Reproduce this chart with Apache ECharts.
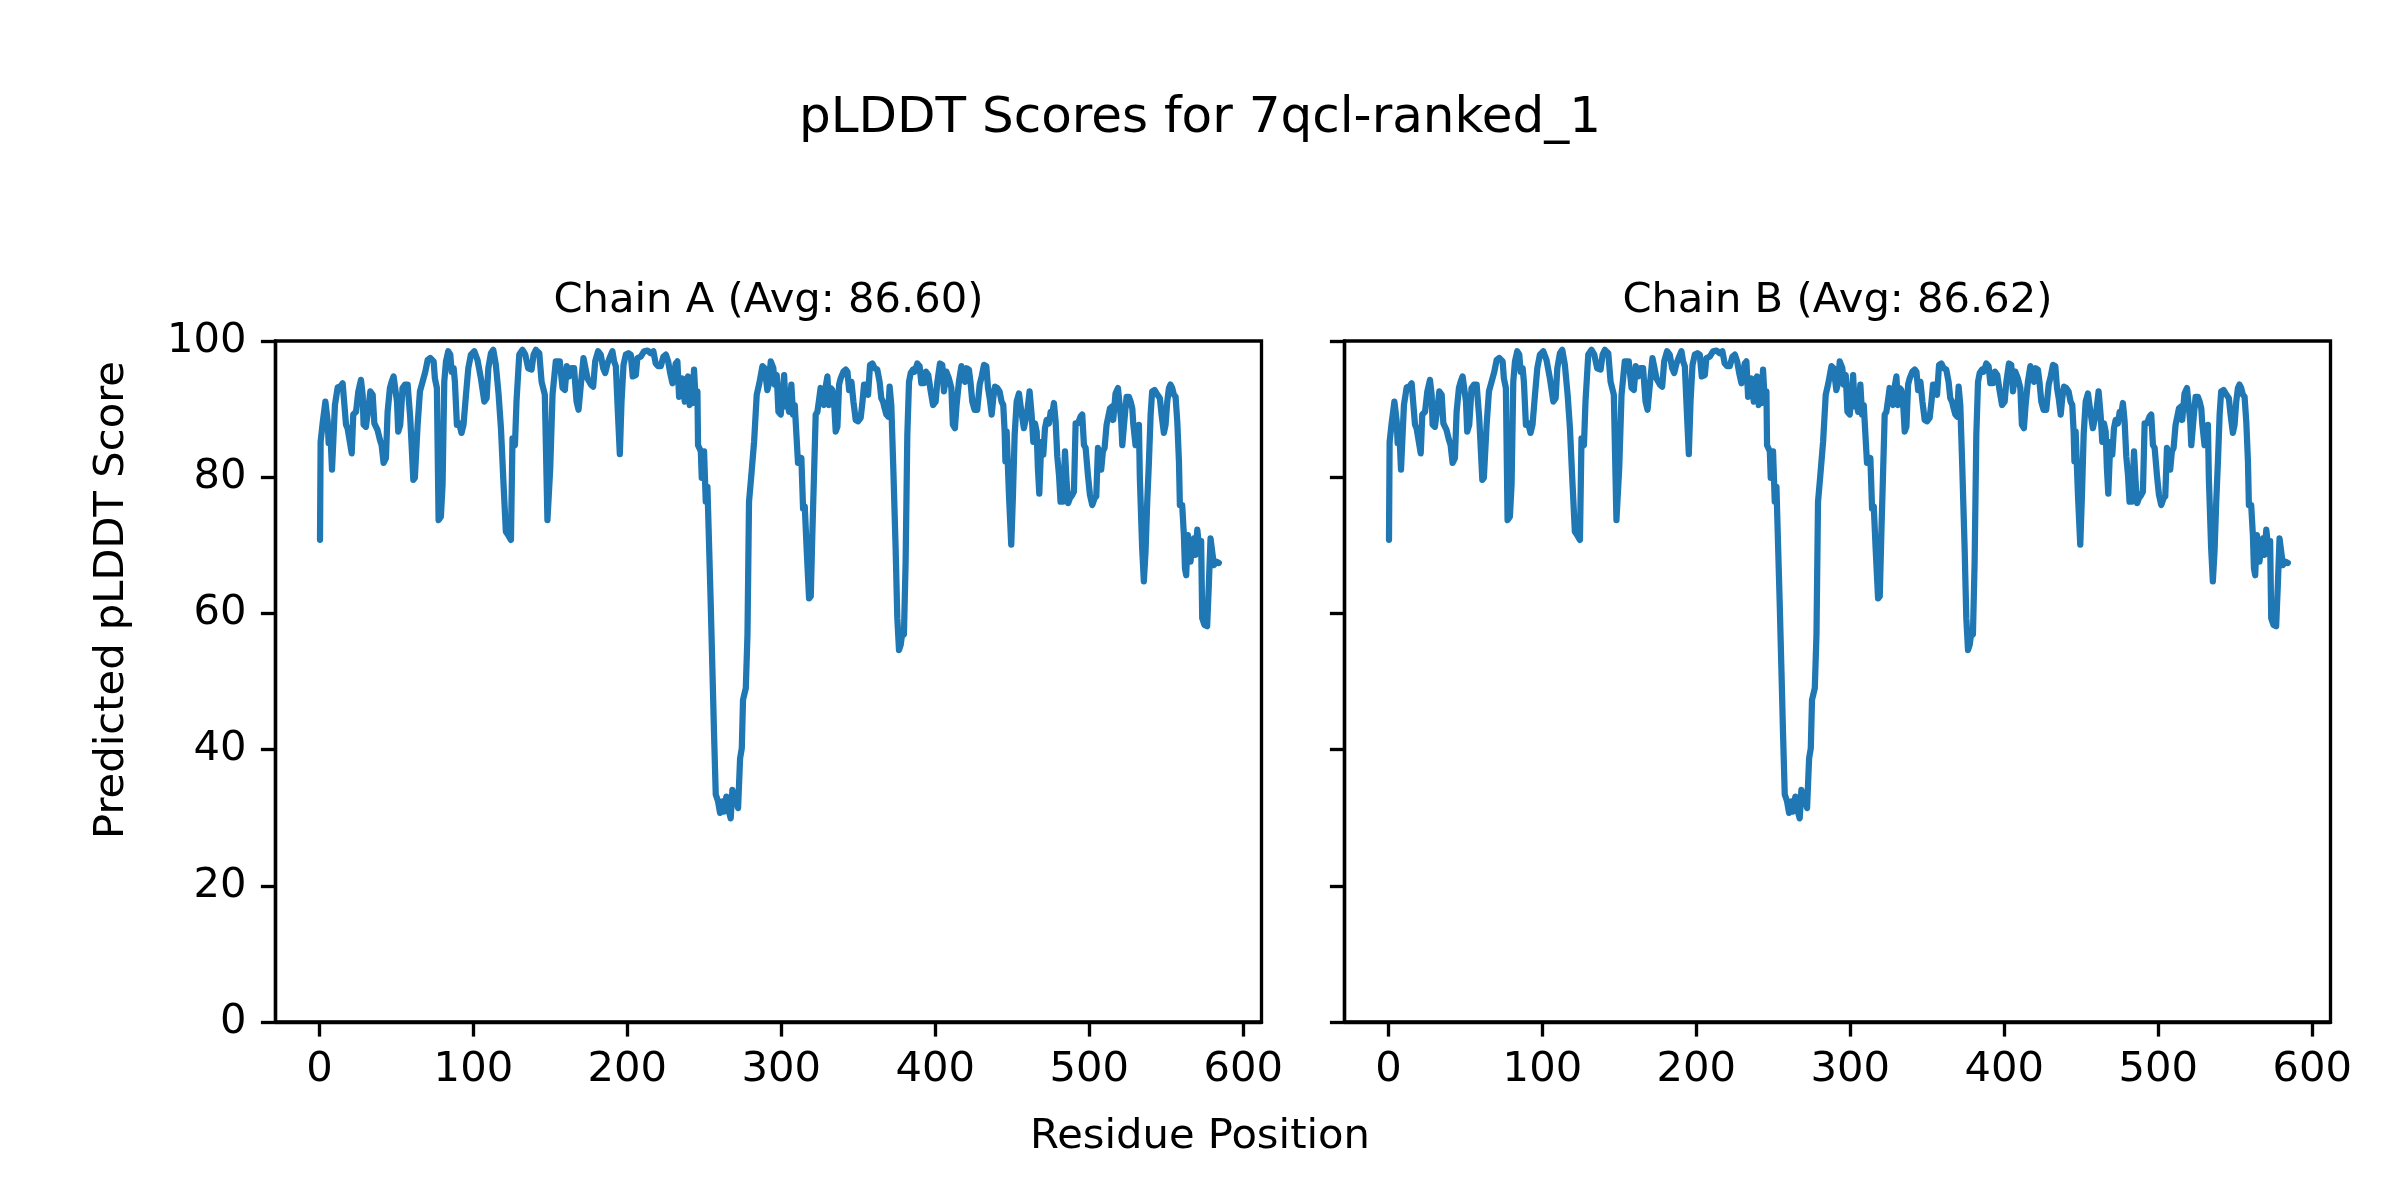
<!DOCTYPE html>
<html>
<head>
<meta charset="utf-8">
<script src="https://cdn.jsdelivr.net/npm/echarts@6/dist/echarts.min.js"></script>
<style>
html,body{margin:0;padding:0;background:#fff;}
#chart{width:2400px;height:1200px;}
</style>
</head>
<body>
<div id="chart"></div>
<script>
// ---- Data ----
const figureTitle = 'pLDDT Scores for 7qcl-ranked_1';
const chainTitles = ['Chain A (Avg: 86.60)', 'Chain B (Avg: 86.62)'];
const xAxisName = 'Residue Position';
const yAxisName = 'Predicted pLDDT Score';
const xTickValues = [0, 100, 200, 300, 400, 500, 600];
const yTickValues = [0, 20, 40, 60, 80, 100];

const residuesA = [0.4,0.8,2.1,3.9,5.4,6,7.1,8.2,9,10.1,11.9,13.6,15.1,17.3,18.3,21,22,23.8,25.3,27,28.1,28.7,30.2,31.8,33.1,34.6,35.7,37.8,39.3,40.4,41.7,43.2,44.3,45.8,46.9,48.2,49.3,50.4,51.2,52.5,54,55.6,57.3,59,61,62,63.8,65.3,67,68.8,70.3,72,74.2,75,76.3,77.4,78.9,80,81.1,82.2,83.7,85,85.9,87.2,88,89.3,90.8,92.3,93.6,95.2,96.7,98.4,100.6,102.7,104.9,107.1,108.6,109.7,111.4,112.9,114.6,116.4,117.9,119.6,121.1,122.6,124.4,125.4,127,128,129.8,131.9,133.7,135.6,137.8,139.1,140.6,142.8,144.3,
146.4,148.1,149.9,151.4,153.5,156.1,157.9,159.4,160.7,162.2,163.7,165.4,167,168.3,169.8,171.5,172.6,174.1,176.3,177.8,179.1,181,182.7,184.3,185.6,187.1,188.8,190.3,191.4,192.5,194,195.1,196.2,197.5,199,200.7,202.2,203.5,205.5,206.5,208.7,210.9,213,215.2,216.9,218.4,220,221.7,223.4,225,226.5,227.8,229.3,230.3,231.4,232.5,233.6,234.7,235.8,237.3,238.3,239.4,240.5,241.6,242.2,243.3,244.4,245.5,245.9,247.7,248.3,249.8,250.9,252,253.1,254.1,255.2,256.3,257.4,258.9,260.2,261.7,262.8,264.3,265.6,267.1,268.2,269.3,270.4,271.9,273.2,274.3,275.1,276.9,278,279,280.5,282.3,284,285.7,287.7,289.2,290.9,292,
293.1,294.8,295.7,297,298.1,299.6,300.7,301.8,302.8,303.9,305,306.5,307.6,308.7,309.8,310.8,311.9,313,314.1,315.2,316.5,318,319.1,320.1,321.2,322.3,323.4,324.5,325.5,326.6,327.7,328.8,329.9,331,332,333.1,334.2,335.3,336.4,337.5,338.5,340.3,341.8,342.9,344,345.5,346.8,348.3,349.8,351.5,352.6,353.7,355.2,356.3,357.6,359.1,360.6,362.3,363.8,364.9,366,367.1,368.2,369.3,370.3,371.4,372.7,374.2,375.3,376.4,377.5,378.6,379.6,380.7,381.8,382.9,384,385.5,386.6,388.3,389.8,390.9,392.6,393.9,395.4,397,398.5,400.2,401.3,403,404.5,405.6,407.1,408.8,410.4,411.4,412.7,413.8,415.3,416.9,418.1,419.2,420.3,421.8,422.9,424,425.5,427.2,428.8,430.1,431.6,433.1,434.2,435.3,436.6,437.6,438.7,440.2,441.7,
443,444.1,445,445.5,446.3,447.8,449.3,450.4,451.5,452.8,454.3,455.4,456.5,457.5,458.6,459.7,461.2,462.5,463.6,464.7,465.8,466.6,467.5,468.8,470.1,471.2,472.3,473.8,474.9,475.9,477,478.1,479.2,480.3,481.3,482.9,484.2,485.2,486.3,487.4,488.9,490,491.1,492.6,494.3,495.4,496.5,497.6,499.1,500.4,501.9,503.4,504.5,505.6,506.7,507.7,508.8,509.9,511.2,512.3,513.4,514.9,515.5,517,518.6,519.6,520.7,521.4,522.5,523.1,524.2,525.7,526.8,527.9,528.5,529.6,530,531.1,532.2,532.8,534.3,535.4,536.5,537.6,538.7,539.8,540.8,542.4,543.7,544.7,545.8,546.9,548.4,549.5,550.6,551.7,552.7,553.8,554.9,556,557.1,558.2,558.8,560.3,561.4,562.1,562.9,564,565.1,565.7,566.8,567.9,569,570.1,571.1,572.2,572.6,573.3,574.8,576.5,577.6,578.7,579.8,580.9,582.6,584.1];

const plddtA = [70.8,85.2,87.9,91.1,88.2,85,86.7,81.1,81.3,90.6,93.2,93.3,93.8,87.7,87.2,83.5,89.2,89.6,92.6,94.3,92.1,87.7,87.4,90.1,92.6,92.1,87.9,86.9,85.5,84.7,82.1,82.8,89.6,93.1,94.0,94.8,95.0,91.1,86.7,87.7,93.1,93.6,93.6,88.7,79.6,79.9,87.7,92.6,94.0,95.5,97.2,97.5,97.0,94.5,93.1,73.7,74.2,78.9,94.0,97.0,98.5,98.0,95.5,96.0,94.0,87.7,87.9,86.5,87.7,92.1,96.0,98.0,98.5,97.2,94.5,91.1,91.6,96.0,98.2,98.7,96.5,92.1,87.2,78.9,72.0,71.5,70.8,85.7,84.7,91.1,98.0,98.7,98.0,96.0,95.8,98.0,98.7,98.2,94.0,
92.1,73.7,81.3,92.1,97.0,97.0,93.1,92.8,96.3,94.8,96.0,96.0,91.1,89.9,93.6,97.5,97.5,94.5,93.6,93.3,97.0,98.5,98.0,96.0,95.3,96.7,97.7,98.5,97.0,96.3,88.7,83.4,91.1,96.5,98.0,98.2,98.0,94.8,95.0,97.5,97.7,98.5,98.6,98.2,98.5,96.7,96.3,96.3,97.7,98.0,97.0,95.3,93.8,94.0,96.7,97.0,91.8,93.6,94.5,91.1,94.0,94.8,90.6,93.1,90.9,95.8,91.1,92.6,84.7,83.8,79.9,83.8,76.4,78.6,78.4,61.7,52,42.2,33.4,32.4,30.7,32.4,30.9,33.1,31.2,29.9,34.1,32.4,32.9,31.4,38.7,40.2,47.3,49,56.9,76.4,80.3,85.2,92.1,93.8,96.3,96.0,92.8,93.8,
97.0,96.0,93.6,95.0,89.6,89.2,92.1,95.0,90.4,91.1,89.6,93.6,89.2,90.6,90.6,82.1,82.1,82.8,75.4,75.7,69.1,62.2,62.5,71.5,80.3,89.2,89.6,91.4,93.1,93.3,90.6,93.3,94.8,90.6,93.1,92.8,91.1,86.7,87.4,93.6,94.5,95.5,95.8,95.5,92.8,94.0,91.1,88.4,88.2,88.7,90.9,93.6,93.6,92.1,96.5,96.7,96.0,95.8,94.0,91.6,91.1,90.1,89.2,88.9,93.3,90.6,81.3,69.6,59.3,54.6,55.4,57.3,56.9,67.6,86.2,94.0,95.3,95.8,95.5,96.7,96.3,93.8,93.8,95.5,95.0,92.6,90.6,91.1,94.0,96.7,96.5,92.6,95.5,94.5,93.1,87.7,87.2,90.6,94.0,96.3,95.0,94.0,96.0,95.8,93.8,91.1,89.9,89.9,93.6,94.8,96.5,96.3,93.1,91.6,89.2,91.6,93.3,93.1,92.6,
91.1,90.6,86.7,82.3,86.7,77.4,70.1,77.4,86.2,91.1,92.3,90.4,88.7,87.2,87.2,89.6,92.6,89.2,85.2,87.9,86.7,81.3,77.6,85.2,83.3,87.2,88.4,87.9,89.6,89.2,90.9,88.2,83.0,80.3,76.4,76.4,83.8,79.4,76.2,76.9,77.4,77.9,87.9,87.9,88.9,89.2,84.7,84.3,80.3,77.4,75.9,76.9,77.2,84.3,84.5,81.1,83.8,84.3,87.7,88.9,90.1,90.4,88.4,92.3,93.1,93.3,88.2,84.7,84.7,89.2,91.8,91.8,91.1,90.1,87.9,87.7,84.7,85.2,87.7,79.9,69.6,64.7,69.1,76.4,82.3,89.2,92.6,92.8,92.3,92.3,91.6,89.2,86.5,87.7,91.1,93.1,93.6,93.1,92.1,91.8,88.2,82.3,75.9,75.9,71.5,66.6,65.6,71.5,71.3,67.6,70.1,71.0,68.6,72.3,70.1,69.1,70.6,59.3,58.3,58.1,64.2,71.0,71.0,67.1,67.6,67.4];

// Chain B is visually identical to chain A in the reference
const residuesB = residuesA.slice();
const plddtB = plddtA.slice();

// ---- Chart ----
const FONT = 'DejaVu Sans';
const FS = 41.67;
const LW = 3.33;
const grids = [
  {left: 275.5, top: 341, width: 986, height: 681},
  {left: 1344.5, top: 341, width: 986, height: 681}
];

function pairs(xs, ys){ return xs.map((x,i)=>[x, ys[i]]); }

const chart = echarts.init(document.getElementById('chart'), null, {renderer:'canvas'});

function xAxisFor(i){
  return {
    type:'value', gridIndex:i, min:-28.5, max:611.8,
    splitLine:{show:false},
    axisLine:{show:true, onZero:false, lineStyle:{color:'#000', width:LW}},
    axisTick:{show:true, length:14.6, lineStyle:{color:'#000', width:LW}, customValues:xTickValues},
    axisLabel:{show:true, color:'#000', fontSize:FS, fontFamily:FONT, margin:27, customValues:xTickValues, formatter:v=>String(v)}
  };
}
function yAxisFor(i, showLabels){
  return {
    type:'value', gridIndex:i, min:0, max:100, interval:20,
    splitLine:{show:false},
    axisLine:{show:true, onZero:false, lineStyle:{color:'#000', width:LW}},
    axisTick:{show:true, length:14.6, lineStyle:{color:'#000', width:LW}},
    axisLabel:{show:showLabels, color:'#000', fontSize:FS, fontFamily:FONT, margin:29}
  };
}

const option = {
  animation:false,
  backgroundColor:'#fff',
  grid: grids.map(g=>Object.assign({show:true, borderColor:'#000', borderWidth:LW, backgroundColor:'transparent', containLabel:false}, g)),
  xAxis:[xAxisFor(0), xAxisFor(1)],
  yAxis:[yAxisFor(0,true), yAxisFor(1,false)],
  series:[
    {type:'line', xAxisIndex:0, yAxisIndex:0, data:pairs(residuesA, plddtA), showSymbol:false, symbol:'none',
     lineStyle:{color:'#1f77b4', width:6.25, join:'round', cap:'round'}},
    {type:'line', xAxisIndex:1, yAxisIndex:1, data:pairs(residuesB, plddtB), showSymbol:false, symbol:'none',
     lineStyle:{color:'#1f77b4', width:6.25, join:'round', cap:'round'}}
  ],
  graphic:[
    {type:'text', x:1200, y:119, style:{text:figureTitle, font:'50px "DejaVu Sans"', fill:'#000', textAlign:'center', textVerticalAlign:'middle'}},
    {type:'text', x:grids[0].left+grids[0].width/2, y:301, style:{text:chainTitles[0], font:FS+'px "DejaVu Sans"', fill:'#000', textAlign:'center', textVerticalAlign:'middle'}},
    {type:'text', x:grids[1].left+grids[1].width/2, y:301, style:{text:chainTitles[1], font:FS+'px "DejaVu Sans"', fill:'#000', textAlign:'center', textVerticalAlign:'middle'}},
    {type:'text', x:1200, y:1137, style:{text:xAxisName, font:FS+'px "DejaVu Sans"', fill:'#000', textAlign:'center', textVerticalAlign:'middle'}},
    {type:'text', x:112, y:600, rotation:Math.PI/2, style:{text:yAxisName, font:FS+'px "DejaVu Sans"', fill:'#000', textAlign:'center', textVerticalAlign:'middle'}}
  ]
};
chart.setOption(option);
</script>
</body>
</html>
